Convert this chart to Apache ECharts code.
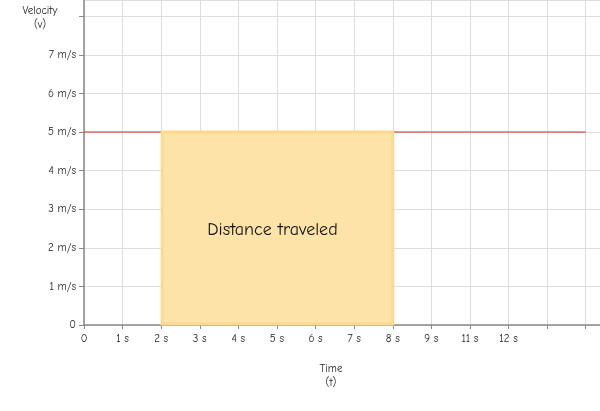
<!DOCTYPE html>
<html><head><meta charset="utf-8">
<script src="https://cdn.jsdelivr.net/npm/echarts@6/dist/echarts.min.js"></script>
<style>html,body{margin:0;padding:0;background:#fff}#c{width:600px;height:411px}</style>
</head><body><div id="c"></div>
<script>
var xTickLabels = ["0","1 s","2 s","3 s","4 s","5 s","6 s","7 s","8 s","9 s","11 s","12 s","",""];
var yTickLabels = ["0","1 m/s","2 m/s","3 m/s","4 m/s","5 m/s","6 m/s","7 m/s",""];
var velocityLine = [[0,5],[13,5]];
var distanceRect = [[2,8,5]]; // [tStart, tEnd, velocity]
var rectLabel = "Distance traveled";

var FONT = "'Comic Sans MS','Comic Neue','DejaVu Sans',sans-serif";
var chart = echarts.init(document.getElementById('c'));
chart.setOption({
  animation:false,
  grid:{left:84,right:0,top:0,bottom:86,containLabel:false},
  xAxis:{type:'value',min:0,max:13.37,interval:1,
    axisLine:{lineStyle:{color:'#888',width:1.5}},
    axisTick:{show:true,length:4,lineStyle:{color:'#888'}},
    splitLine:{show:true,lineStyle:{color:'#ddd'}},
    axisLabel:{color:'#222',fontSize:11,fontFamily:FONT,margin:8,showMaxLabel:false,
      formatter:function(v){var i=Math.round(v);return (Math.abs(v-i)<1e-6 && xTickLabels[i]!==undefined)?xTickLabels[i]:'';}}
  },
  yAxis:{type:'value',min:0,max:8.42,interval:1,
    axisLine:{show:true,lineStyle:{color:'#888',width:1.5}},
    axisTick:{show:true,length:5,lineStyle:{color:'#888'}},
    splitLine:{show:true,lineStyle:{color:'#ddd'}},
    axisLabel:{color:'#222',fontSize:11,fontFamily:FONT,margin:8,showMaxLabel:false,
      formatter:function(v){var i=Math.round(v);return (Math.abs(v-i)<1e-6 && yTickLabels[i]!==undefined)?yTickLabels[i]:'';}}
  },
  graphic:[
    {type:'text',x:40,y:4,style:{text:'Velocity\n(v)',align:'center',fill:'#222',font:'11px '+FONT,lineHeight:14}},
    {type:'text',x:331,y:362,style:{text:'Time\n(t)',align:'center',fill:'#222',font:'11px '+FONT,lineHeight:14}}
  ],
  series:[
    {type:'line',data:velocityLine,symbol:'none',lineStyle:{color:'#d02c28',width:1.2},z:2},
    {type:'custom',z:3,data:distanceRect,
      renderItem:function(params,api){
        var p0=api.coord([api.value(0),api.value(2)]);
        var p1=api.coord([api.value(1),0]);
        return {type:'rect',shape:{x:p0[0]+1,y:p0[1],width:p1[0]-p0[0]-1,height:p1[1]-p0[1]-1},
          style:{fill:'#fde3a8',stroke:'#fcd98e',lineWidth:3},
          textContent:{style:{text:rectLabel,fill:'#111',font:'18px '+FONT}},
          textConfig:{position:'inside',offset:[-5,2]}};
      }
    }
  ]
});
</script></body></html>
